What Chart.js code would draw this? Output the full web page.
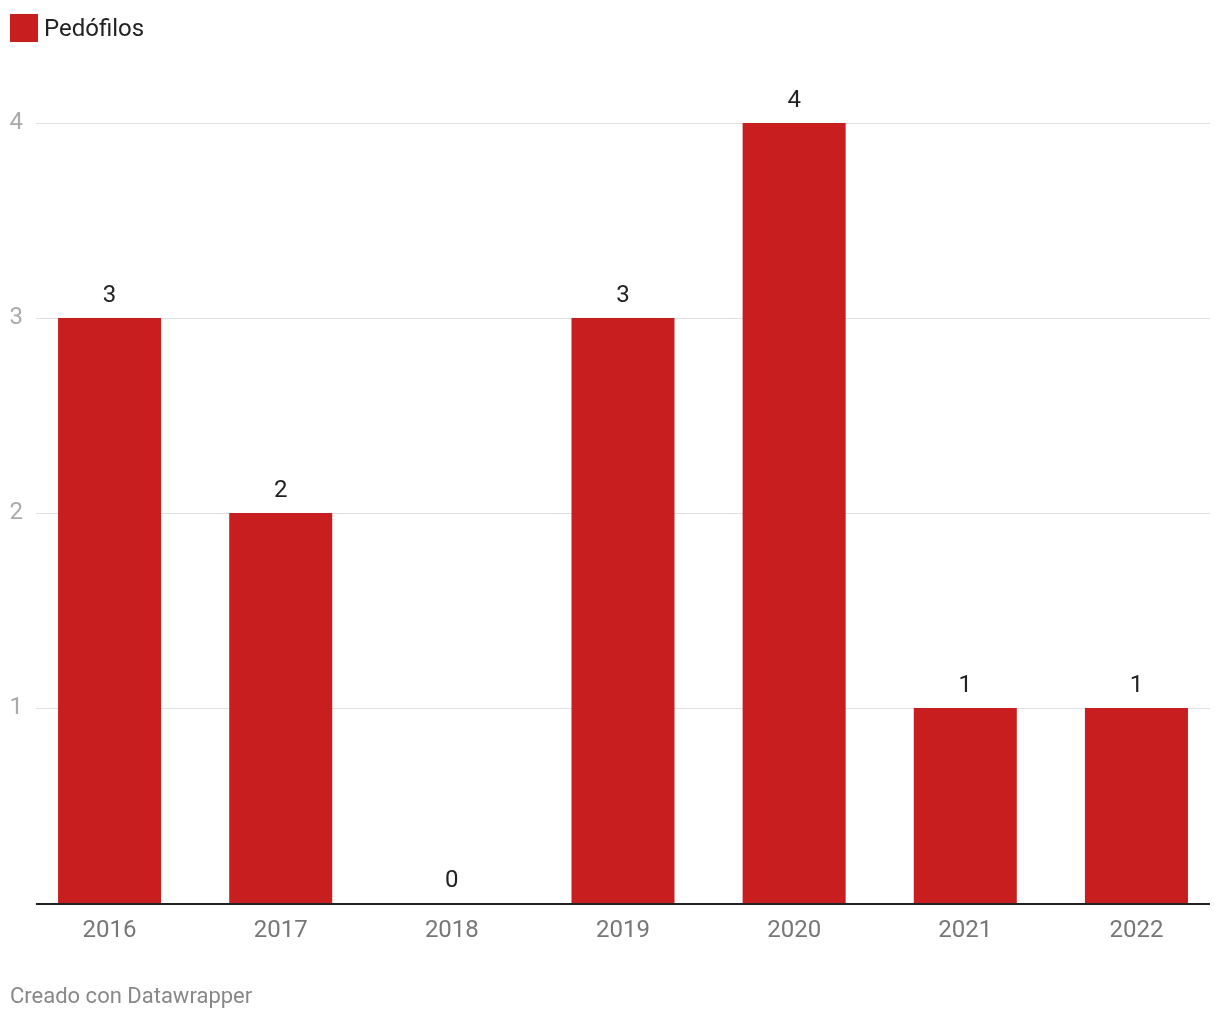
<!DOCTYPE html>
<html>
<head>
<meta charset="utf-8">
<script src="https://cdn.jsdelivr.net/npm/chart.js@4"></script>
<style>
html, body { margin:0; padding:0; background:#fff; overflow:hidden; }
body { width:1220px; height:1020px; position:relative; font-family:Roboto, sans-serif; }
#wrap { position:absolute; left:0; top:0; width:1230px; height:1020px; }
#legend { position:absolute; left:10px; top:14px; height:28px; display:flex; align-items:center; font-size:24px; color:#222; }
#legend span.box { width:28px; height:28px; background:#c91e1f; margin-right:6px; display:inline-block; }
#footer { position:absolute; left:10px; top:983px; font-size:22px; color:#888; }
</style>
</head>
<body>
<div id="wrap"><canvas id="chart"></canvas></div>
<div id="legend"><span class="box"></span>Pedófilos</div>
<div id="footer">Creado con Datawrapper</div>
<script>
const years = ['2016','2017','2018','2019','2020','2021','2022'];
const pedofilos = [3, 2, 0, 3, 4, 1, 1];
const yTicks = [1, 2, 3, 4];

/* gridlines + baseline, drawn from the y scale */
const gridPlugin = {
  id:'grid',
  beforeDatasetsDraw(chart){
    const ctx = chart.ctx;
    const y = chart.scales.y;
    ctx.save();
    ctx.strokeStyle = '#e0e0e0';
    ctx.lineWidth = 1;
    yTicks.forEach(function(t){
      let py = Math.round(y.getPixelForValue(t)) + 0.5;
      ctx.beginPath();
      ctx.moveTo(36, py);
      ctx.lineTo(1210, py);
      ctx.stroke();
    });
    ctx.restore();
  },
  afterDatasetsDraw(chart){
    const ctx = chart.ctx;
    const y = chart.scales.y;
    ctx.save();
    ctx.strokeStyle = '#222';
    ctx.lineWidth = 2;
    let py = Math.round(y.getPixelForValue(0)) + 1;
    ctx.beginPath();
    ctx.moveTo(36, py);
    ctx.lineTo(1210, py);
    ctx.stroke();

    /* value labels */
    ctx.fillStyle = '#222';
    ctx.font = '24px Roboto';
    ctx.textAlign = 'center';
    ctx.textBaseline = 'alphabetic';
    chart.getDatasetMeta(0).data.forEach(function(bar, i){
      ctx.fillText(String(pedofilos[i]), bar.x, bar.y - 16);
    });
    ctx.restore();
  }
};

new Chart(document.getElementById('chart'), {
  type:'bar',
  data:{
    labels:years,
    datasets:[{
      label:'Pedófilos',
      data:pedofilos,
      backgroundColor:'#c91e1f',
      barPercentage:1,
      categoryPercentage:0.602
    }]
  },
  options:{
    responsive:true,
    maintainAspectRatio:false,
    animation:false,
    layout:{ padding:{ top:123, right:8, left:0, bottom:0 } },
    plugins:{
      legend:{ display:false },
      tooltip:{ enabled:false }
    },
    scales:{
      x:{
        grid:{ display:false, drawTicks:false },
        border:{ display:false },
        ticks:{ color:'#777', font:{ family:'Roboto', size:24 }, padding:14, maxRotation:0 },
        afterFit(scale){ scale.height = 117; }
      },
      y:{
        min:0, max:4,
        grid:{ display:false, drawTicks:false },
        border:{ display:false },
        afterBuildTicks(scale){ scale.ticks = yTicks.map(v => ({ value:v })); },
        ticks:{ color:'#aaa', font:{ family:'Roboto', size:24 }, padding:1 },
        afterFit(scale){ scale.width = 24; }
      }
    }
  },
  plugins:[gridPlugin]
});
</script>
</body>
</html>
